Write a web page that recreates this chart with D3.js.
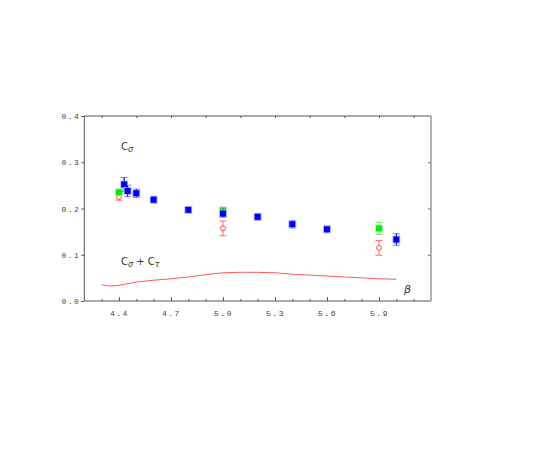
<!DOCTYPE html>
<html>
<head>
<meta charset="utf-8">
<script src="https://cdn.jsdelivr.net/npm/d3@7"></script>
<style>
  body { margin: 0; background: #fff; }
  .tick text { font-family: "Liberation Mono", monospace; font-size: 8px; letter-spacing: 1.5px; fill: #444; }
</style>
</head>
<body>
<div class="canvas"></div>
<script>
// blue squares (filled)
const blueBeta = [4.43, 4.45, 4.5, 4.6, 4.8, 5.0, 5.2, 5.4, 5.6, 6.0];
const blueVal  = [0.252, 0.238, 0.233, 0.219, 0.197, 0.189, 0.182, 0.166, 0.155, 0.133];
const blueErr  = [0.015, 0.0125, 0.009, 0.007, 0.005, 0.008, 0.007, 0.008, 0.007, 0.0125];

// green squares
const greenBeta = [4.4, 5.0, 5.9];
const greenVal  = [0.235, 0.196, 0.157];
const greenErr  = [0.004, 0.004, 0.013];

// red open circles
const redBeta = [4.4, 5.0, 5.9];
const redVal  = [0.225, 0.157, 0.115];
const redErr  = [0.007, 0.016, 0.016];

// C_sigma + C_tau curve
const sumBeta = [4.3, 4.35, 4.4, 4.5, 4.6, 4.7, 4.8, 4.9, 5.0, 5.1, 5.2, 5.3, 5.4, 5.5, 5.6, 5.7, 5.8, 5.9, 6.0];
const sumVal  = [0.035, 0.032, 0.034, 0.041, 0.045, 0.048, 0.052, 0.057, 0.061, 0.062, 0.062, 0.061, 0.058, 0.056, 0.054, 0.052, 0.050, 0.048, 0.047];

const xMajor = [4.4, 4.7, 5.0, 5.3, 5.6, 5.9];
const xMinor = d3.range(43, 62).map(d => d / 10);
const xTop = d3.range(43, 62, 2).map(d => d / 10);
const yTicks = [0, 0.1, 0.2, 0.3, 0.4];

const width = 545, height = 452;
const plotLeft = 84.3, plotRight = 431, plotTop = 116, plotBottom = 301;

const svg = d3.select('.canvas')
  .append('svg')
  .attr('width', width)
  .attr('height', height);

const x = d3.scaleLinear().domain([4.2, 6.2]).range([plotLeft, plotRight]);
const y = d3.scaleLinear().domain([0, 0.4]).range([plotBottom, plotTop]);

// minor ticks bottom
svg.append('g')
  .attr('transform', `translate(0, ${plotBottom})`)
  .call(d3.axisBottom(x).tickValues(xMinor).tickSize(-2).tickSizeOuter(0).tickFormat(''))
  .call(g => g.select('.domain').remove())
  .selectAll('line').attr('stroke', '#555');

// major ticks bottom
svg.append('g')
  .attr('transform', `translate(0, ${plotBottom})`)
  .call(d3.axisBottom(x).tickValues(xMajor).tickSize(-4).tickSizeOuter(0).tickPadding(9).tickFormat(d3.format('.1f')))
  .call(g => g.select('.domain').remove())
  .call(g => g.selectAll('line').attr('stroke', '#555'));

// top ticks
svg.append('g')
  .attr('transform', `translate(0, ${plotTop})`)
  .call(d3.axisTop(x).tickValues(xTop).tickSize(-2).tickSizeOuter(0).tickFormat(''))
  .call(g => g.select('.domain').remove())
  .selectAll('line').attr('stroke', '#555');

// left axis
svg.append('g')
  .attr('transform', `translate(${plotLeft}, 0)`)
  .call(d3.axisLeft(y).tickValues(yTicks).tickSize(3).tickSizeOuter(0).tickPadding(1).tickFormat(d3.format('.1f')))
  .call(g => g.select('.domain').remove())
  .call(g => g.selectAll('line').attr('stroke', '#555'));

// right axis
svg.append('g')
  .attr('transform', `translate(${plotRight}, 0)`)
  .call(d3.axisRight(y).tickValues([0.1, 0.2, 0.3]).tickSize(-3).tickSizeOuter(0).tickFormat(''))
  .call(g => g.select('.domain').remove())
  .selectAll('line').attr('stroke', '#666');

// frame
svg.append('line').attr('x1', plotLeft).attr('x2', plotLeft).attr('y1', plotTop).attr('y2', plotBottom).attr('stroke', '#555');
svg.append('line').attr('x1', plotLeft).attr('x2', plotRight).attr('y1', plotBottom).attr('y2', plotBottom).attr('stroke', '#555');
svg.append('line').attr('x1', plotLeft).attr('x2', plotRight).attr('y1', plotTop).attr('y2', plotTop).attr('stroke', '#555');
svg.append('line').attr('x1', plotRight).attr('x2', plotRight).attr('y1', plotTop).attr('y2', plotBottom).attr('stroke', '#999').attr('stroke-width', 1.5);

// curve
const line = d3.line().x((d, i) => x(sumBeta[i])).y(d => y(d));
svg.append('path')
  .datum(sumVal)
  .attr('fill', 'none')
  .attr('stroke', '#ff5a5a')
  .attr('stroke-width', 1)
  .attr('d', line);

function errorBars(betas, vals, errs, colour) {
  const g = svg.append('g').attr('stroke', colour).attr('stroke-width', 1);
  betas.forEach((b, i) => {
    const cx = x(b), y1 = y(vals[i] + errs[i]), y2 = y(vals[i] - errs[i]);
    g.append('line').attr('x1', cx).attr('x2', cx).attr('y1', y1).attr('y2', y2);
    g.append('line').attr('x1', cx - 3.5).attr('x2', cx + 3.5).attr('y1', y1).attr('y2', y1);
    g.append('line').attr('x1', cx - 3.5).attr('x2', cx + 3.5).attr('y1', y2).attr('y2', y2);
  });
}

// red circles
errorBars(redBeta, redVal, redErr, '#ff6a6a');
svg.append('g').selectAll('circle')
  .data(redVal)
  .enter().append('circle')
  .attr('cx', (d, i) => x(redBeta[i]))
  .attr('cy', d => y(d))
  .attr('r', 2.5)
  .attr('fill', '#fff')
  .attr('stroke', '#ff4a4a')
  .attr('stroke-width', 1);

// green squares
errorBars(greenBeta, greenVal, greenErr, '#66e066');
const gg = svg.append('g');
greenVal.forEach((v, i) => {
  gg.append('rect').attr('x', x(greenBeta[i]) - 4).attr('y', y(v) - 4).attr('width', 8).attr('height', 8).attr('fill', '#b0f5b0');
  gg.append('rect').attr('x', x(greenBeta[i]) - 3).attr('y', y(v) - 3).attr('width', 6).attr('height', 6).attr('fill', '#00ee00');
});

// blue squares
errorBars(blueBeta, blueVal, blueErr, '#8080ff');
const bg = svg.append('g');
blueVal.forEach((v, i) => {
  bg.append('rect').attr('x', x(blueBeta[i]) - 4).attr('y', y(v) - 4).attr('width', 8).attr('height', 8).attr('fill', '#b8b8ff');
  bg.append('rect').attr('x', x(blueBeta[i]) - 3).attr('y', y(v) - 3).attr('width', 6).attr('height', 6).attr('fill', '#0000f0');
  bg.append('line').attr('x1', x(blueBeta[i])).attr('x2', x(blueBeta[i]))
    .attr('y1', y(v + blueErr[i])).attr('y2', y(v - blueErr[i]))
    .attr('stroke', '#0000f0').attr('stroke-width', 1);
});

// labels
const lab = svg.append('g').attr('font-family', 'DejaVu Sans, sans-serif').attr('fill', '#333');
const t1 = lab.append('text').attr('x', 121).attr('y', 150).attr('font-size', 10);
t1.append('tspan').text('C');
t1.append('tspan').attr('dy', 2).attr('font-size', 8).attr('font-style', 'italic').text('σ');

const t2 = lab.append('text').attr('x', 121).attr('y', 265).attr('font-size', 10);
t2.append('tspan').text('C');
t2.append('tspan').attr('dy', 2).attr('font-size', 8).attr('font-style', 'italic').text('σ');
t2.append('tspan').attr('dy', -2).text(' + C');
t2.append('tspan').attr('dy', 2).attr('font-size', 8).attr('font-style', 'italic').text('τ');

lab.append('text').attr('x', 404).attr('y', 293).attr('font-size', 11).attr('font-style', 'italic').text('β');
</script>
</body>
</html>
